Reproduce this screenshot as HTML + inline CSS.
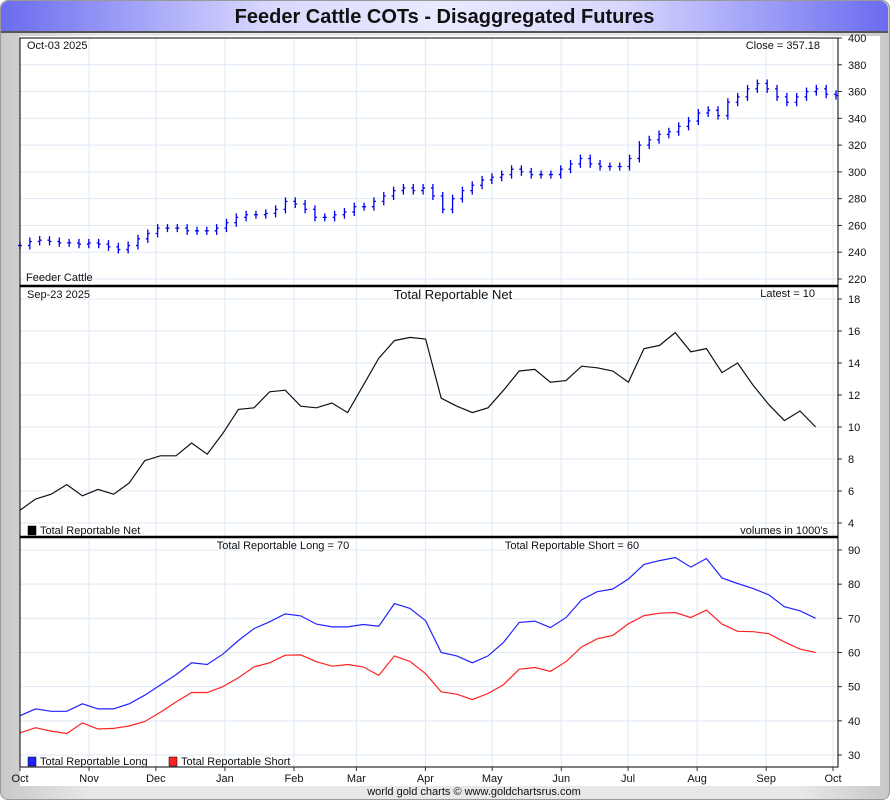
<!DOCTYPE html>
<html><head><meta charset="utf-8">
<style>
body{margin:0;width:890px;height:800px;overflow:hidden;background:#fff;font-family:"Liberation Sans",sans-serif;}
#frame{position:absolute;left:0;top:0;width:888px;height:798px;border:1px solid #999;border-radius:8px;background:linear-gradient(90deg,#c8c8c8,#e8e8e8 10%,#e8e8e8 90%,#c8c8c8);}
#title{position:absolute;left:1px;top:1px;width:887px;height:30px;border-radius:8px 8px 0 0;background:linear-gradient(90deg,#6b6bf0,#d8d8ff 30%,#eaeaff 50%,#d8d8ff 70%,#6b6bf0);border-bottom:2px solid #555;text-align:center;font-weight:bold;font-size:20px;line-height:32px;color:#111;}
svg{position:absolute;left:0;top:0}
text{font-family:"Liberation Sans",sans-serif;font-size:11px;fill:#111}
</style></head><body>
<div id="frame"></div>
<div id="title">Feeder Cattle COTs - Disaggregated Futures</div>
<svg id="c" width="890" height="800"></svg>
<script>
const months=["Oct","Nov","Dec","Jan","Feb","Mar","Apr","May","Jun","Jul","Aug","Sep","Oct"];
const monthDays=[0,31,61,92,123,151,182,212,243,273,304,335,365];
const priceTicks=[220,240,260,280,300,320,340,360,380,400];
const netTicks=[4,6,8,10,12,14,16,18];
const volTicks=[30,40,50,60,70,80,90];
const priceCloses=[245,248,249,248,247,247,246,247,246,244,242,245,250,254,258,258,258,256,256,256,258,262,266,268,268,269,272,278,276,272,266,266,268,270,274,274,278,282,286,288,286,288,282,272,280,286,290,294,296,298,302,300,298,298,298,302,306,310,306,304,304,304,310,320,324,328,330,334,338,344,346,342,352,356,362,366,362,356,352,356,360,362,358,357];
const netValues=[4.8,5.5,5.8,6.4,5.7,6.1,5.8,6.5,7.9,8.2,8.2,9.0,8.3,9.6,11.1,11.2,12.2,12.3,11.3,11.2,11.5,10.9,12.6,14.3,15.4,15.6,15.5,11.8,11.3,10.9,11.2,12.3,13.5,13.6,12.8,12.9,13.8,13.7,13.5,12.8,14.9,15.1,15.9,14.7,14.9,13.4,14.0,12.6,11.4,10.4,11.0,10.0];
const longValues=[41.5,43.5,42.8,42.8,45,43.5,43.5,45,47.5,50.5,53.5,57,56.5,59.5,63.5,67,69,71.3,70.7,68.3,67.5,67.5,68.2,67.7,74.3,72.9,69.3,60,59,57,59,63,68.8,69.2,67.3,70.2,75.4,77.8,78.6,81.5,85.8,86.9,87.8,85,87.5,81.8,80.2,78.7,76.9,73.4,72.2,70];
const shortValues=[36.5,38,37,36.3,39.4,37.6,37.8,38.5,39.8,42.5,45.5,48.3,48.3,50,52.6,55.8,57,59.2,59.3,57.3,56,56.5,55.8,53.3,59,57.4,53.8,48.5,47.8,46.2,48,50.6,55.1,55.6,54.5,57.3,61.6,64,65,68.4,70.8,71.5,71.7,70.2,72.4,68.3,66.2,66.1,65.5,63.1,61,60];

const NS="http://www.w3.org/2000/svg";
const svg=document.getElementById('c');
function el(t,a,p){const e=document.createElementNS(NS,t);for(const k in a)e.setAttribute(k,a[k]);(p||svg).appendChild(e);return e;}
const X0=20,X1=838;
const xDay=d=>X0+d*(813/365);
const yPrice=v=>38+(400-v)*(241/180);
const yNet=v=>299+(18-v)*16;
const yVol=v=>550+(90-v)*(205/60);
const xWeek=i=>X0+i*15.6;

const bg=el('rect',{x:20,y:36,width:860,height:750,fill:'#fff'});



const panels=[[38,286],[286,537],[537,767]];
monthDays.forEach(d=>{const x=xDay(d);
 const g=el('line',{x1:x,x2:x,y1:38,y2:767,stroke:'#dde9f5','stroke-width':1});
 
 
});
function hgrid(ticks,fy,name){ticks.forEach(v=>{const y=fy(v);
 const g=el('line',{x1:X0,x2:X1,y1:y,y2:y,stroke:'#dde9f5'});
 
 
 const t=el('line',{x1:X1,x2:X1+4,y1:y,y2:y,stroke:'#333'});
 
 
 const l=el('text',{x:X1+10,y:y+4});l.textContent=v;
 
 
});}
hgrid(priceTicks,yPrice,'price');hgrid(netTicks,yNet,'net');hgrid(volTicks,yVol,'volume');

const step=(836-X0)/(priceCloses.length-1);
priceCloses.forEach((c,i)=>{
 const x=X0+i*step,p=i?priceCloses[i-1]:c;
 const hi=Math.max(c,p)+3,lo=Math.min(c,p)-3;
 const b=el('path',{d:`M${x},${yPrice(hi)}V${yPrice(lo)}M${x-2},${yPrice(p)}H${x}M${x},${yPrice(c)}H${x+2}`,stroke:'#0000ee','stroke-width':1.3,fill:'none'});
 
 
});
function line(vals,fy,color,name){
 const d=vals.map((v,i)=>(i?'L':'M')+xWeek(i).toFixed(1)+','+fy(v).toFixed(1)).join('');
 const p=el('path',{d,stroke:color,'stroke-width':1.2,fill:'none'});
 
 
}
line(netValues,yNet,'#111','net-line');
line(longValues,yVol,'#2222ff','long-line');
line(shortValues,yVol,'#ff2222','short-line');

panels.forEach(([a,b])=>{const r=el('rect',{x:X0,y:a,width:X1-X0,height:b-a,fill:'none',stroke:'#000','stroke-width':1});
 
 });
[286,537].forEach(y=>{const s=el('line',{x1:X0,x2:X1,y1:y,y2:y,stroke:'#000','stroke-width':2.5});
 
 });

months.forEach((m,i)=>{const x=xDay(monthDays[i]);
 const t=el('line',{x1:x,x2:x,y1:767,y2:771,stroke:'#333'});
 
 
 const l=el('text',{x:x,y:782,'text-anchor':'middle'});l.textContent=m;
 
 
});
function txt(x,y,s,name,anchor,size){const t=el('text',{x,y,'text-anchor':anchor||'start'});if(size)t.style.fontSize=size+'px';t.textContent=s;
 
 return t;}
txt(27,49,'Oct-03  2025','price-date');
txt(820,49,'Close = 357.18','close-label','end');
txt(26,281,'Feeder Cattle','price-name');
txt(27,298,'Sep-23  2025','net-date');
txt(453,299,'Total Reportable Net','net-title','middle',13);
txt(815,297,'Latest = 10','latest-label','end');
txt(40,534,'Total Reportable Net','net-legend');
txt(828,534,"volumes in 1000's",'volume-note','end');
txt(283,549,'Total Reportable Long = 70','long-latest','middle');
txt(572,549,'Total Reportable Short = 60','short-latest','middle');
txt(40,765,'Total Reportable Long','long-legend');
txt(181,765,'Total Reportable Short','short-legend');
txt(474,795,'world gold charts © www.goldchartsrus.com','footer','middle');
[[28,526,'#000','net-legend-swatch'],[28,757,'#2222ff','long-legend-swatch'],[169,757,'#ff2222','short-legend-swatch']].forEach(([x,y,c,n])=>{
 const r=el('rect',{x,y,width:8,height:9,fill:c,stroke:'#000','stroke-width':0.5});
 
 });
</script>
</body></html>
